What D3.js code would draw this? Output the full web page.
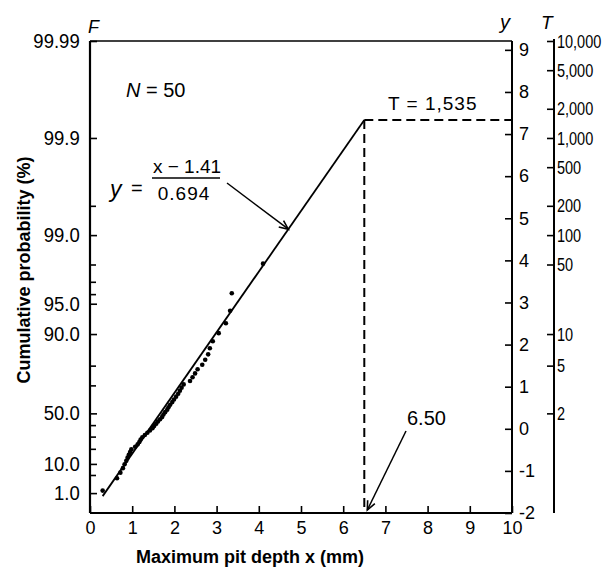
<!DOCTYPE html>
<html><head><meta charset="utf-8">
<script src="https://cdn.jsdelivr.net/npm/d3@7"></script>
<style>
body{margin:0;background:#fff}
text{font-family:"Liberation Sans",Arial,sans-serif;fill:#000}
</style>
</head><body><svg id="c" width="603" height="571"></svg>
<script>
// ---- data ----
const pitDepth = [0.30,0.64,0.72,0.78,0.82,0.86,0.89,0.92,0.95,0.98,
                  1.07,1.13,1.17,1.20,1.24,1.30,1.36,1.42,1.48,1.52,
                  1.57,1.61,1.66,1.71,1.74,1.78,1.83,1.86,1.90,1.95,
                  1.99,2.04,2.09,2.13,2.17,2.22,2.37,2.43,2.49,2.55,
                  2.66,2.73,2.80,2.84,2.91,3.05,3.22,3.32,3.36,4.10];
const cumProb = [1.30,3.92,5.88,7.84,9.80,11.76,13.73,15.69,17.65,19.61,
                 21.57,23.53,25.49,27.45,29.41,31.37,33.33,35.29,37.25,39.22,
                 41.18,43.14,45.10,47.06,49.02,50.98,52.94,54.90,56.86,58.82,
                 60.78,62.75,64.71,66.67,68.63,70.59,72.55,74.51,76.47,78.43,
                 80.39,82.35,84.31,86.27,88.24,90.20,92.16,94.12,96.08,98.04];
const xTicks = [0,1,2,3,4,5,6,7,8,9,10];
const yTicks = [-2,-1,0,1,2,3,4,5,6,7,8,9];
const probTicks = [1.0,10.0,50.0,90.0,95.0,99.0,99.9,99.99];
const probLabels = ["1.0","10.0","50.0","90.0","95.0","99.0","99.9","99.99"];
const probMinor = [5,20,30,40,70,80,96,97,98,99.5];
const returnTicks = [2,5,10,50,100,200,500,1000,2000,5000,10000];
const returnLabels = ["2","5","10","50","100","200","500","1,000","2,000","5,000","10,000"];
const fitParams = [1.41, 0.694];   // y = (x - 1.41)/0.694
const fitRange = [0.30, 6.50];
const predX = 6.50;
const predT = 1535;

// ---- scales ----
const reduced = p => -Math.log(-Math.log(p/100));
const fromT = T => -Math.log(-Math.log(1 - 1/T));
const x = d3.scaleLinear().domain([0,10]).range([90,512]);
const y = d3.scaleLinear().domain([-2, reduced(99.99)]).range([513,41]);
const fit = v => (v - fitParams[0]) / fitParams[1];

const svg = d3.select("#c");

// left F axis
svg.append("g").attr("transform","translate(90,0)")
  .call(d3.axisLeft(y).tickValues(probTicks.map(reduced))
    .tickFormat((d,i)=>probLabels[i]).tickSizeInner(-7).tickSizeOuter(0).tickPadding(10))
  .selectAll(".tick text").attr("font-size",18).attr("transform","scale(1.03,1.15)");
svg.append("g").attr("transform","translate(90,0)")
  .call(d3.axisLeft(y).tickValues(probMinor.map(reduced)).tickFormat("").tickSizeInner(-6).tickSizeOuter(0));

// right y axis
svg.append("g").attr("transform","translate(512,0)")
  .call(d3.axisRight(y).tickValues(yTicks).tickFormat(d=>d<0?"-"+Math.abs(d):d)
    .tickSizeInner(-7).tickSizeOuter(0).tickPadding(7))
  .selectAll(".tick text").attr("font-size",18);

// T axis
svg.append("g").attr("transform","translate(554,0)")
  .call(d3.axisRight(y).tickValues(returnTicks.map(fromT))
    .tickFormat((d,i)=>returnLabels[i]).tickSizeInner(-7).tickSizeOuter(0).tickPadding(3))
  .selectAll(".tick text").attr("font-size",14.5).attr("transform","scale(1,1.3)");

// bottom axis
svg.append("g").attr("transform","translate(0,513)")
  .call(d3.axisBottom(x).tickValues(xTicks).tickFormat(d=>d)
    .tickSizeInner(-7).tickSizeOuter(0).tickPadding(8))
  .selectAll(".tick text").attr("font-size",18);

svg.selectAll(".domain").remove();
svg.selectAll(".tick line").attr("stroke","#000").attr("stroke-width",1.6);
svg.selectAll(".tick text").attr("font-family",null);

// frame
const frame = svg.append("g").attr("stroke","#000").attr("fill","none");
frame.append("line").attr("x1",x(0)).attr("x2",x(0)).attr("y1",y.range()[1]).attr("y2",y.range()[0]).attr("stroke-width",2.2);
frame.append("line").attr("x1",x(0)).attr("x2",x(10)).attr("y1",y.range()[0]).attr("y2",y.range()[0]).attr("stroke-width",2.2);
frame.append("line").attr("x1",x(0)).attr("x2",x(10)).attr("y1",y.range()[1]).attr("y2",y.range()[1]).attr("stroke-width",1.6);
frame.append("line").attr("x1",x(10)).attr("x2",x(10)).attr("y1",y.range()[1]).attr("y2",y.range()[0]).attr("stroke-width",2);
frame.append("line").attr("x1",554).attr("x2",554).attr("y1",y(fromT(10000))-2).attr("y2",y.range()[0]).attr("stroke-width",2);

// fitted line
svg.append("line").attr("stroke","#000").attr("stroke-width",1.8)
  .attr("x1",x(fitRange[0])).attr("y1",y(fit(fitRange[0])))
  .attr("x2",x(fitRange[1])).attr("y2",y(fit(fitRange[1])));

// dashed prediction lines
const dash = svg.append("g").attr("stroke","#000").attr("stroke-width",2).attr("stroke-dasharray","9,5").attr("fill","none");
dash.append("line").attr("x1",x(predX)).attr("x2",x(predX)).attr("y1",y(fromT(predT))).attr("y2",y(-2));
dash.append("line").attr("x1",x(predX)).attr("x2",x(10)).attr("y1",y(fromT(predT))).attr("y2",y(fromT(predT)));

// data points
svg.append("g").selectAll("circle").data(pitDepth).join("circle")
  .attr("cx",(d)=>x(d)).attr("cy",(d,i)=>y(reduced(cumProb[i]))).attr("r",2.3).attr("fill","#000");

// arrows
const defs = svg.append("defs");
defs.append("marker").attr("id","arr").attr("viewBox","-10 -6 12 12").attr("refX",0).attr("refY",0)
  .attr("markerWidth",12).attr("markerHeight",12).attr("markerUnits","userSpaceOnUse").attr("orient","auto")
  .append("path").attr("d","M-9,-4 L0,0 L-9,4").attr("fill","none").attr("stroke","#000").attr("stroke-width",1.6);
svg.append("line").attr("x1",227).attr("y1",183).attr("x2",x(4.7)).attr("y2",y(fit(4.7))).attr("stroke","#000").attr("stroke-width",1.5).attr("marker-end","url(#arr)");
svg.append("line").attr("x1",406).attr("y1",431).attr("x2",x(predX)+3).attr("y2",y(-2)-3).attr("stroke","#000").attr("stroke-width",1.5).attr("marker-end","url(#arr)");

// axis titles
svg.append("text").attr("x",88).attr("y",33).attr("font-size",18).attr("font-style","italic").text("F");
svg.append("text").attr("x",500).attr("y",29).attr("font-size",20).attr("font-style","italic").text("y");
svg.append("text").attr("x",541).attr("y",29).attr("font-size",19).attr("font-style","italic").text("T");
svg.append("text").attr("transform","translate(30,270) rotate(-90)").attr("text-anchor","middle")
  .attr("font-size",18).attr("font-weight","bold").text("Cumulative probability (%)");
svg.append("text").attr("x",250).attr("y",563).attr("text-anchor","middle")
  .attr("font-size",18).attr("font-weight","bold").text("Maximum pit depth x (mm)");

// annotations
const nt = svg.append("text").attr("x",126).attr("y",97).attr("font-size",20);
nt.append("tspan").attr("font-style","italic").text("N");
nt.append("tspan").text(" = 50");
svg.append("text").attr("x",110).attr("y",197).attr("font-size",23).attr("font-style","italic").text("y");
svg.append("text").attr("x",131).attr("y",195).attr("font-size",20).text("=");
svg.append("line").attr("x1",152).attr("x2",220).attr("y1",178).attr("y2",178).attr("stroke","#000").attr("stroke-width",1.6);
svg.append("text").attr("x",187).attr("y",173).attr("text-anchor","middle").attr("font-size",19).text("x − 1.41");
svg.append("text").attr("x",184).attr("y",200).attr("text-anchor","middle").attr("font-size",19).attr("letter-spacing",1).text("0.694");
svg.append("text").attr("x",388).attr("y",110).attr("font-size",19).attr("letter-spacing",1).text("T = 1,535");
svg.append("text").attr("x",407).attr("y",425).attr("font-size",20).text("6.50");
</script></body></html>
